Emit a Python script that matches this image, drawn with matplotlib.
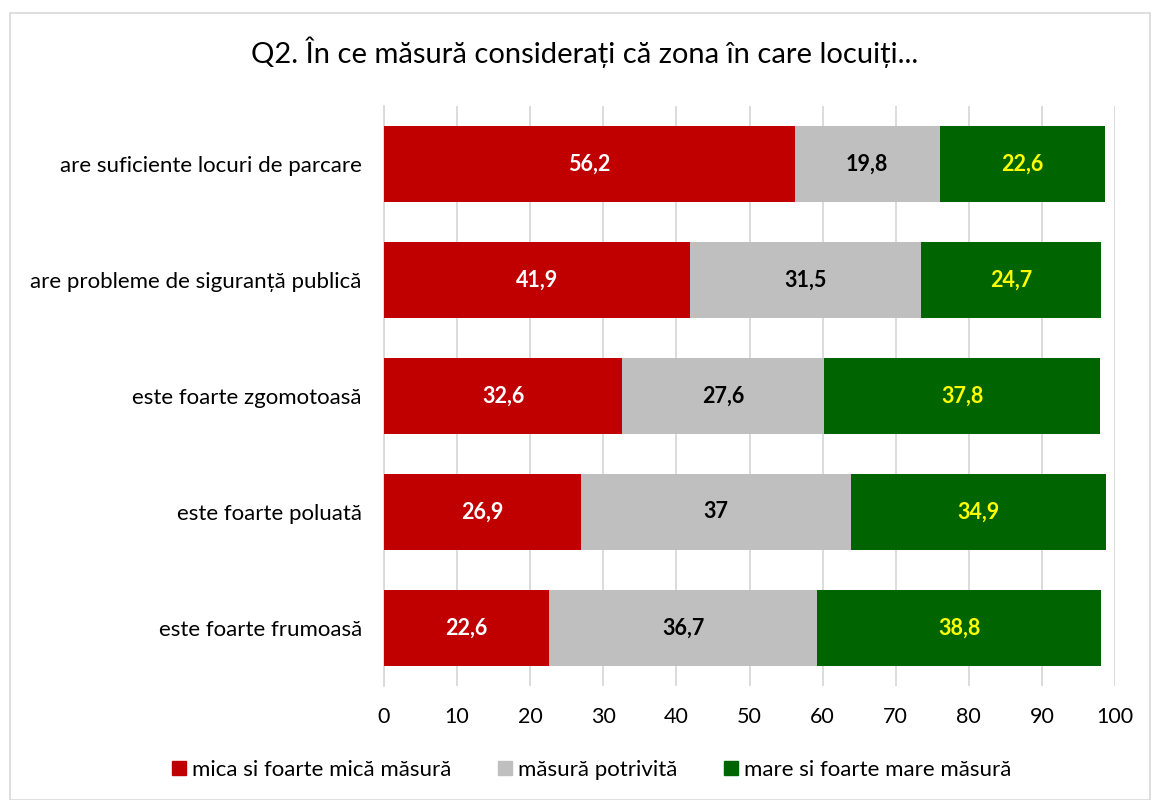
import matplotlib.pyplot as plt
from matplotlib.patches import Rectangle, Patch

plt.rcParams['font.family'] = ['Lato', 'DejaVu Sans']

# Données
categories = [
    'are suficiente locuri de parcare',
    'are probleme de siguranță publică',
    'este foarte zgomotoasă',
    'este foarte poluată',
    'este foarte frumoasă',
]
mica = [56.2, 41.9, 32.6, 26.9, 22.6]
potrivita = [19.8, 31.5, 27.6, 37, 36.7]
mare = [22.6, 24.7, 37.8, 34.9, 38.8]

serii = ['mica si foarte mică măsură', 'măsură potrivită', 'mare si foarte mare măsură']
culori = ['#C00000', '#BFBFBF', '#006400']
culori_text = ['white', 'black', '#FFFF00']

fig = plt.figure(figsize=(11.52, 8), dpi=100)
ax = fig.add_axes([384 / 1152, 1 - 686 / 800, (1115 - 384) / 1152, 580 / 800])

# chenar în jurul graficului
fig.patches.append(Rectangle((10 / 1152, 0), 1140 / 1152, 1 - 13 / 800,
                             transform=fig.transFigure, fill=False,
                             edgecolor='#d9d9d9', linewidth=1.2))

y = list(range(len(categories)))
left = [0] * len(categories)
for vals, col, tcol in zip([mica, potrivita, mare], culori, culori_text):
    bars = ax.barh(y, vals, left=left, height=0.66, color=col, zorder=3)
    labels = [('%g' % v).replace('.', ',') for v in vals]
    ax.bar_label(bars, labels=labels, label_type='center', color=tcol,
                 fontsize=15.5, fontweight='bold')
    left = [a + b for a, b in zip(left, vals)]

ax.set_xlim(0, 100)
ax.set_ylim(len(categories) - 0.5, -0.5)
ax.set_xticks(range(0, 101, 10))
ax.set_yticks(y)
ax.set_yticklabels(categories, fontsize=16)
ax.tick_params(axis='x', labelsize=15.5, length=0, pad=15)
ax.tick_params(axis='y', length=0, pad=16)
ax.xaxis.grid(True, color='#d9d9d9', linewidth=1.3, zorder=0)
ax.set_axisbelow(True)
for s in ['top', 'right', 'bottom']:
    ax.spines[s].set_visible(False)
ax.spines['left'].set_color('#d9d9d9')
ax.spines['left'].set_linewidth(1.3)

fig.text(585 / 1152, 1 - 52 / 800, 'Q2. În ce măsură considerați că zona în care locuiți...',
         ha='center', va='center', fontsize=21)

handles = [Patch(color=c) for c in culori]
fig.legend(handles, serii, loc='center', bbox_to_anchor=(592 / 1152, 1 - 770 / 800),
           ncol=3, frameon=False, fontsize=16, handlelength=0.6, handleheight=0.6,
           handletextpad=0.3, columnspacing=2.1)

fig.savefig('out.png', dpi=100)
